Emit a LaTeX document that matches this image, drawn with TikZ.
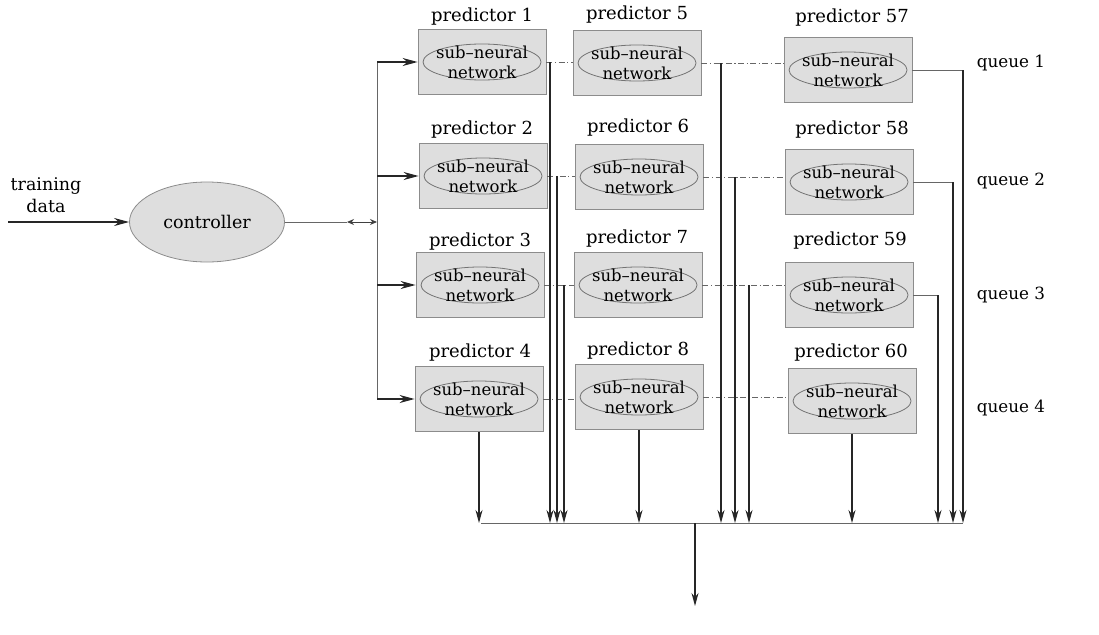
\documentclass[tikz,border=0pt]{standalone}
\usepackage{fontspec}
\setmainfont{DejaVu Serif}
\usetikzlibrary{arrows.meta,shapes.geometric}
\begin{document}
\begin{tikzpicture}[x=1pt,y=-1pt,
  font=\fontsize{16.5}{20}\selectfont,
  pbox/.style={draw=black!45, fill=black!13, line width=0.8pt, minimum width=128pt, minimum height=65pt, inner sep=0pt},
  subell/.style={ellipse, draw=black!55, line width=0.8pt, minimum width=118pt, minimum height=36pt, inner sep=0pt},
  subtxt/.style={align=center, inner sep=0pt, text=black},
  plabel/.style={inner sep=0pt, text=black, font=\fontsize{18}{20}\selectfont},
  qlabel/.style={inner sep=0pt, text=black, font=\fontsize{16.8}{20}\selectfont},
  ctrlstyle/.style={ellipse, draw=black!45, fill=black!13, line width=0.8pt, minimum width=155pt, minimum height=80pt, inner sep=0pt, text=black, font=\fontsize{17.5}{20}\selectfont},
  dd/.style={draw=black!60, line width=0.8pt, dash pattern=on 6pt off 2.5pt on 1.2pt off 2.5pt},
  thinline/.style={draw=black!60, line width=0.8pt},
  outarrow/.style={draw=black!85, line width=1.4pt, -{Stealth[length=13pt,width=7pt]}},
  inarrow/.style={draw=black!85, line width=1.4pt, -{Stealth[length=15pt,width=8pt]}},
]
\useasboundingbox (0,0) rectangle (1099,634);

% predictor boxes
\foreach \n/\x/\y in {1/482/62, 2/483/176, 3/480/285, 4/479/399,
                      5/637/63, 6/639/177, 7/638/285, 8/639/397,
                      57/848/70, 58/849/182, 59/849/295, 60/852/401}{
  \node[pbox] (p\n) at (\x,\y) {};
  \node[subell] (e\n) at (\x,\y) {};
  \node[subtxt] (s\n) at (\x,\y) {sub–neural\\network};
}

% predictor labels
\foreach \n/\x/\y in {1/482/17, 2/482/130, 3/480/242, 4/480/353,
                      5/637/15, 6/638/128, 7/637/239, 8/638/351,
                      57/852/18, 58/852/130, 59/850/241, 60/851/353}{
  \node[plabel] (l\n) at (\x,\y) {predictor \n};
}

% queue labels
\node[qlabel] (q1) at (1011,63) {queue 1};
\node[qlabel] (q2) at (1011,181) {queue 2};
\node[qlabel] (q3) at (1011,295) {queue 3};
\node[qlabel] (q4) at (1011,408) {queue 4};

% training data and controller
\node[plabel, align=center, font=\fontsize{17.5}{20}\selectfont] (td) at (46,195) {training\\[2pt]data};
\node[ctrlstyle] (ctrl) at (207,222) {controller};
\coordinate (tdstart) at (8,222);
\draw[draw=black!85, line width=1.8pt, -{Stealth[length=15pt,width=8pt]}] (tdstart) -- (ctrl.west);

\coordinate (dA) at (347,222);
\coordinate (hub) at (377,222);
\draw[thinline] (ctrl.east) -- (dA);
\draw[draw=black!75, line width=1pt, {Stealth[length=7pt,width=6pt]}-{Stealth[length=7pt,width=6pt]}] (dA) -- (hub);

% distributor
\coordinate (t1) at (377,62);
\coordinate (t2) at (377,176);
\coordinate (t3) at (377,285);
\coordinate (t4) at (377,399);
\draw[thinline] (t1) -- (t4);
\draw[inarrow] (t1) -- (p1.west);
\draw[inarrow] (t2) -- (p2.west);
\draw[inarrow] (t3) -- (p3.west);
\draw[inarrow] (t4) -- (p4.west);

% dash-dot links between columns
\draw[dd] (p1.east) -- (p5.west |- p1.east);
\draw[dd] (p5.east) -- (p57.west |- p5.east);
\draw[dd] (p2.east) -- (p6.west |- p2.east);
\draw[dd] (p6.east) -- (p58.west |- p6.east);
\draw[dd] (p3.east) -- (p7.west |- p3.east);
\draw[dd] (p7.east) -- (p59.west |- p7.east);
\draw[dd] (p4.east) -- (p8.west |- p4.east);
\draw[dd] (p8.east) -- (p60.west |- p8.east);

% bus
\coordinate (busL) at (481,523);
\coordinate (busR) at (963,523);
\coordinate (busM) at (695,523);
\coordinate (final) at (695,606);
\draw[thinline] (busL) -- (busR);
\draw[outarrow] (busM) -- (final);

% outputs from column 1
\coordinate (v11) at (550,62);
\coordinate (v12) at (557,176);
\coordinate (v13) at (564,285);
\draw[outarrow] (v11) -- (v11 |- busM);
\draw[outarrow] (v12) -- (v12 |- busM);
\draw[outarrow] (v13) -- (v13 |- busM);
\draw[outarrow] (p4.south) -- (p4.south |- busM);

% outputs from column 2
\coordinate (v21) at (721,63);
\coordinate (v22) at (735,177);
\coordinate (v23) at (749,285);
\draw[outarrow] (v21) -- (v21 |- busM);
\draw[outarrow] (v22) -- (v22 |- busM);
\draw[outarrow] (v23) -- (v23 |- busM);
\draw[outarrow] (p8.south) -- (p8.south |- busM);

% outputs from column 3
\coordinate (k1) at (963,523);
\coordinate (k2) at (953,523);
\coordinate (k3) at (938,523);
\draw[thinline] (p57.east) -- (p57.east -| k1);
\draw[thinline] (p58.east) -- (p58.east -| k2);
\draw[thinline] (p59.east) -- (p59.east -| k3);
\draw[outarrow] (p57.east -| k1) -- (k1);
\draw[outarrow] (p58.east -| k2) -- (k2);
\draw[outarrow] (p59.east -| k3) -- (k3);
\draw[outarrow] (p60.south) -- (p60.south |- busM);
\end{tikzpicture}
\end{document}
